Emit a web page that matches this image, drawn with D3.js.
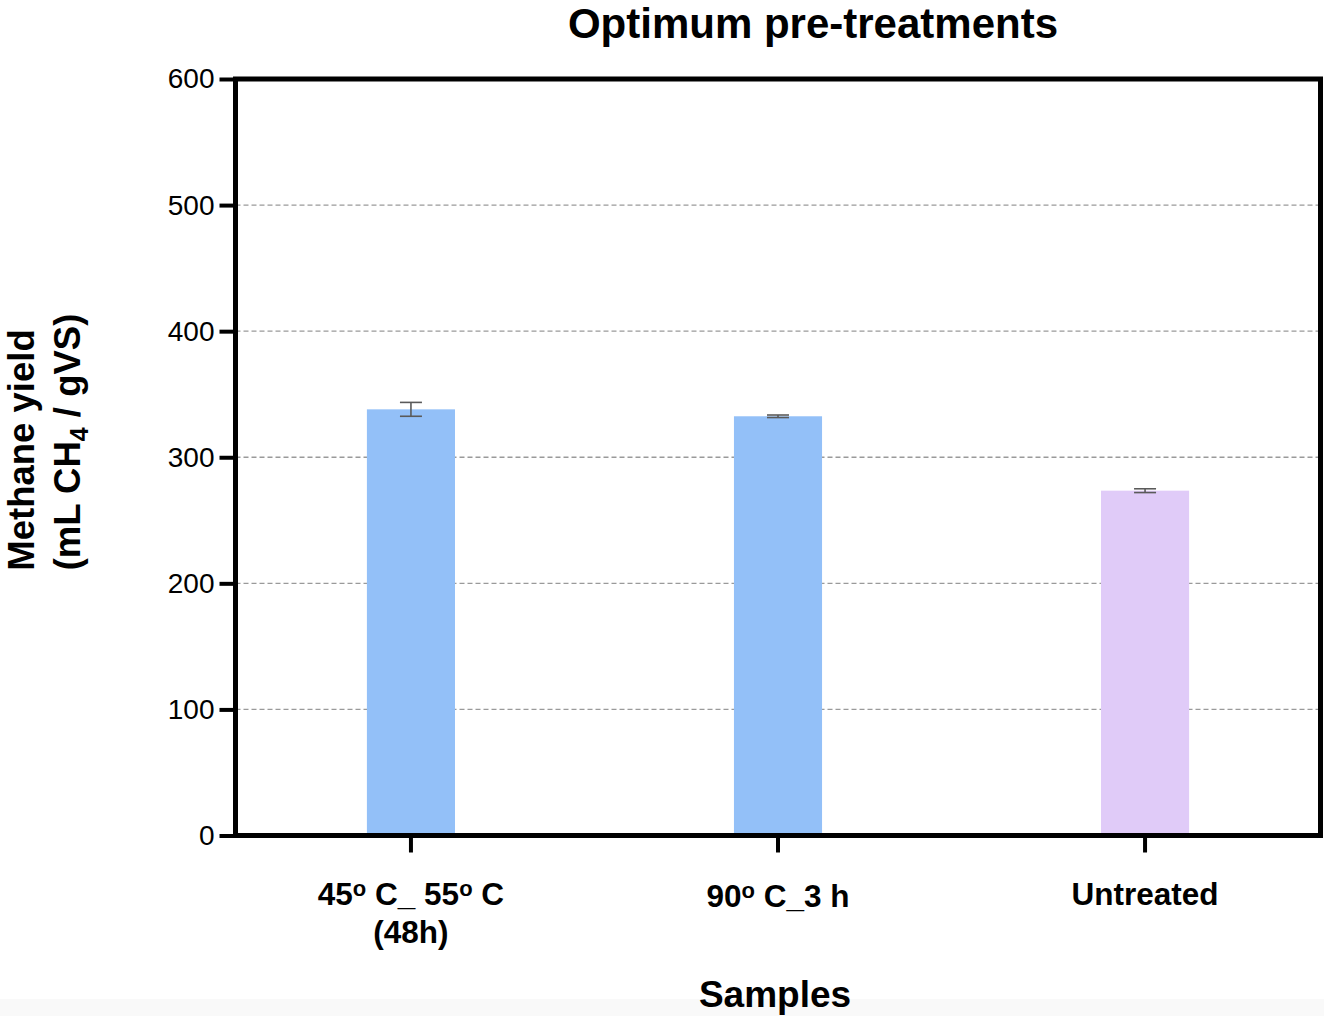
<!DOCTYPE html>
<html>
<head>
<meta charset="utf-8">
<script src="https://cdn.jsdelivr.net/npm/d3@7"></script>
<style>
  html, body { margin: 0; padding: 0; background: #fff; }
  svg { display: block; font-family: "Liberation Sans", Arial, sans-serif; }
</style>
</head>
<body>
<svg id="chart" width="1324" height="1016"></svg>
<script>
const categories = ["cat1", "cat2", "cat3"];
const values = [338, 332.5, 273.5];
const errors = [5.5, 1, 1.5];
const colors = ["#93c0f8", "#93c0f8", "#e0cbf8"];
const yTicks = [0, 100, 200, 300, 400, 500, 600];
const gridValues = [100, 200, 300, 400, 500];

const svg = d3.select("#chart");
const W = 1324, H = 1016;
const pLeft = 235.5, pRight = 1320.5, pTop = 79, pBottom = 835.5;

// faint bottom strip
svg.append("rect").attr("x", 0).attr("y", 999).attr("width", W).attr("height", 17).attr("fill", "#f9f9f9");

const x = d3.scaleBand().domain(categories).range([pLeft, pRight]).paddingInner(0.76).paddingOuter(0.358);
const y = d3.scaleLinear().domain([0, 600]).range([pBottom, pTop]);

// gridlines
svg.append("g").selectAll("line").data(gridValues).join("line")
  .attr("x1", pLeft).attr("x2", pRight)
  .attr("y1", d => y(d)).attr("y2", d => y(d))
  .attr("stroke", "#9a9a9a").attr("stroke-width", 1.4).attr("stroke-dasharray", "5,3");

// bars
svg.append("g").selectAll("rect").data(categories).join("rect")
  .attr("x", d => x(d)).attr("width", x.bandwidth())
  .attr("y", (d, i) => y(values[i])).attr("height", (d, i) => pBottom - y(values[i]))
  .attr("fill", (d, i) => colors[i]);

// error bars
const eg = svg.append("g").attr("stroke", "#5a5a5a").attr("stroke-width", 1.6);
categories.forEach((c, i) => {
  const cx = x(c) + x.bandwidth() / 2;
  const hi = y(values[i] + errors[i]), lo = y(values[i] - errors[i]);
  eg.append("line").attr("x1", cx).attr("x2", cx).attr("y1", hi).attr("y2", lo);
  eg.append("line").attr("x1", cx - 11).attr("x2", cx + 11).attr("y1", hi).attr("y2", hi);
  eg.append("line").attr("x1", cx - 11).attr("x2", cx + 11).attr("y1", lo).attr("y2", lo);
});

// frame
svg.append("rect").attr("x", pLeft).attr("y", pTop).attr("width", pRight - pLeft).attr("height", pBottom - pTop)
  .attr("fill", "none").attr("stroke", "#000").attr("stroke-width", 5);

// y axis
const yAxis = d3.axisLeft(y).tickValues(yTicks).tickSize(16).tickPadding(5);
const yg = svg.append("g").attr("transform", `translate(${pLeft},0)`).call(yAxis);
yg.select(".domain").remove();
yg.selectAll(".tick line").attr("stroke", "#000").attr("stroke-width", 4);
yg.selectAll(".tick text").attr("font-size", 28).attr("fill", "#000")
  .attr("font-family", "Liberation Sans, Arial, sans-serif");

// x axis
const xAxis = d3.axisBottom(x).tickSize(17).tickFormat("");
const xg = svg.append("g").attr("transform", `translate(0,${pBottom})`).call(xAxis);
xg.select(".domain").remove();
xg.selectAll(".tick line").attr("stroke", "#000").attr("stroke-width", 4);

// x labels
const lab = svg.append("g").attr("font-weight", "bold").attr("font-size", 31.5).attr("fill", "#000").attr("text-anchor", "middle");
{
  const cx = x(categories[0]) + x.bandwidth() / 2;
  const t = lab.append("text").attr("x", cx).attr("y", 905);
  t.append("tspan").text("45");
  t.append("tspan").attr("font-size", 22).attr("dy", -9).text("o");
  t.append("tspan").attr("dy", 9).text(" C_ 55");
  t.append("tspan").attr("font-size", 22).attr("dy", -9).text("o");
  t.append("tspan").attr("dy", 9).text(" C");
  lab.append("text").attr("x", cx).attr("y", 943).text("(48h)");
}
{
  const cx = x(categories[1]) + x.bandwidth() / 2;
  const t = lab.append("text").attr("x", cx).attr("y", 907);
  t.append("tspan").text("90");
  t.append("tspan").attr("font-size", 22).attr("dy", -9).text("o");
  t.append("tspan").attr("dy", 9).text(" C_3 h");
}
{
  const cx = x(categories[2]) + x.bandwidth() / 2;
  lab.append("text").attr("x", cx).attr("y", 905).text("Untreated");
}

// title
svg.append("text").attr("x", 813).attr("y", 38).attr("text-anchor", "middle")
  .attr("font-weight", "bold").attr("font-size", 42).text("Optimum pre-treatments");

// x title
svg.append("text").attr("x", 775).attr("y", 1007).attr("text-anchor", "middle")
  .attr("font-weight", "bold").attr("font-size", 37).text("Samples");

// y title
const yt = svg.append("g").attr("font-weight", "bold").attr("font-size", 36.5).attr("text-anchor", "middle");
yt.append("text").attr("transform", "translate(34,450) rotate(-90)").text("Methane yield");
const t2 = yt.append("text").attr("transform", "translate(80,442) rotate(-90)");
t2.append("tspan").text("(mL CH");
t2.append("tspan").attr("font-size", 25).attr("dy", 8).text("4");
t2.append("tspan").attr("dy", -8).text(" / gVS)");
</script>
</body>
</html>
